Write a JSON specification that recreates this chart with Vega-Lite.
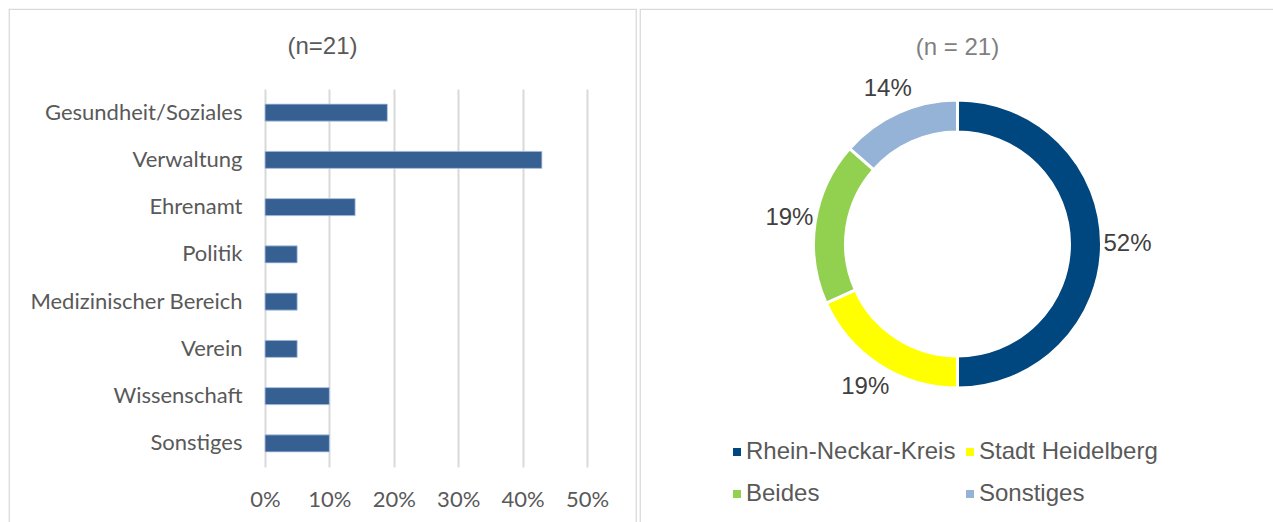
{
  "$schema": "https://vega.github.io/schema/vega-lite/v6.json",
  "padding": {"left": 8, "top": 8, "right": 0, "bottom": 0},
  "spacing": 2,
  "resolve": {"scale": {"color": "independent"}, "legend": {"color": "independent"}},
  "config": {
    "view": {"stroke": "#d9d9d9", "strokeWidth": 1.25},
    "title": {"font": "Liberation Sans", "fontSize": 24, "fontWeight": "normal", "anchor": "middle"}
  },
  "hconcat": [
    {
      "width": 627,
      "height": 538,
      "title": {"text": "(n=21)", "color": "#595959", "offset": -50},
      "data": {"values": [
        {"category": "Gesundheit/Soziales", "share": 0.19},
        {"category": "Verwaltung", "share": 0.43},
        {"category": "Ehrenamt", "share": 0.14},
        {"category": "Politik", "share": 0.05},
        {"category": "Medizinischer Bereich", "share": 0.05},
        {"category": "Verein", "share": 0.05},
        {"category": "Wissenschaft", "share": 0.10},
        {"category": "Sonstiges", "share": 0.10}
      ]},
      "mark": {"type": "bar", "fill": "#376092", "stroke": "#b4c7e7", "strokeWidth": 0.8},
      "encoding": {
        "y": {
          "field": "category", "type": "nominal", "sort": null,
          "scale": {"range": [80, 458], "paddingInner": 0.64, "paddingOuter": 0.32},
          "axis": {"title": null, "orient": "left", "offset": -256, "domain": false, "ticks": false, "grid": false,
                   "labelPadding": 23, "labelFont": "Lato", "labelFontSize": 22, "labelColor": "#595959", "labelLimit": 400}
        },
        "x": {
          "field": "share", "type": "quantitative",
          "scale": {"domain": [0, 0.5], "range": [256, 578], "nice": false},
          "axis": {"title": null, "orient": "bottom", "offset": -80, "domain": false, "ticks": false,
                   "grid": true, "gridColor": "#d9d9d9", "gridWidth": 2,
                   "values": [0, 0.1, 0.2, 0.3, 0.4, 0.5], "format": ".0%", "labelFlush": false,
                   "labelPadding": 22, "labelFont": "Lato", "labelFontSize": 22, "labelColor": "#595959"}
        }
      }
    },
    {
      "width": 635,
      "height": 538,
      "title": {"text": "(n = 21)", "color": "#7f7f7f", "offset": -51},
      "data": {"values": [
        {"region": "Rhein-Neckar-Kreis", "share": 0.52, "rank": 1},
        {"region": "Stadt Heidelberg", "share": 0.19, "rank": 2},
        {"region": "Beides", "share": 0.19, "rank": 3},
        {"region": "Sonstiges", "share": 0.14, "rank": 4}
      ]},
      "encoding": {
        "theta": {"field": "share", "type": "quantitative", "stack": true},
        "order": {"field": "rank", "type": "quantitative"},
        "y": {"datum": 0, "type": "quantitative", "scale": {"domain": [-1, 1], "range": [470, 0]}, "axis": null}
      },
      "layer": [
        {
          "mark": {"type": "arc", "outerRadius": 144, "innerRadius": 112, "stroke": "#ffffff", "strokeWidth": 3},
          "encoding": {
            "color": {
              "field": "region", "type": "nominal", "sort": null,
              "scale": {"domain": ["Rhein-Neckar-Kreis", "Stadt Heidelberg", "Beides", "Sonstiges"],
                        "range": ["#00467f", "#ffff00", "#92d050", "#95b3d7"]},
              "legend": {"title": null, "orient": "none", "legendX": 85, "legendY": 431, "columns": 2,
                         "direction": "horizontal", "labelLimit": 400,
                         "symbolType": "square", "symbolSize": 64, "symbolStrokeWidth": 0,
                         "labelFont": "Liberation Sans", "labelFontSize": 24, "labelColor": "#595959",
                         "labelOffset": -3, "columnPadding": 2, "rowPadding": 18}
            }
          }
        },
        {
          "mark": {"type": "text", "radius": 170, "font": "Liberation Sans", "fontSize": 24, "fill": "#404040"},
          "encoding": {
            "text": {"field": "share", "type": "quantitative", "format": ".0%"}
          }
        }
      ]
    }
  ]
}
